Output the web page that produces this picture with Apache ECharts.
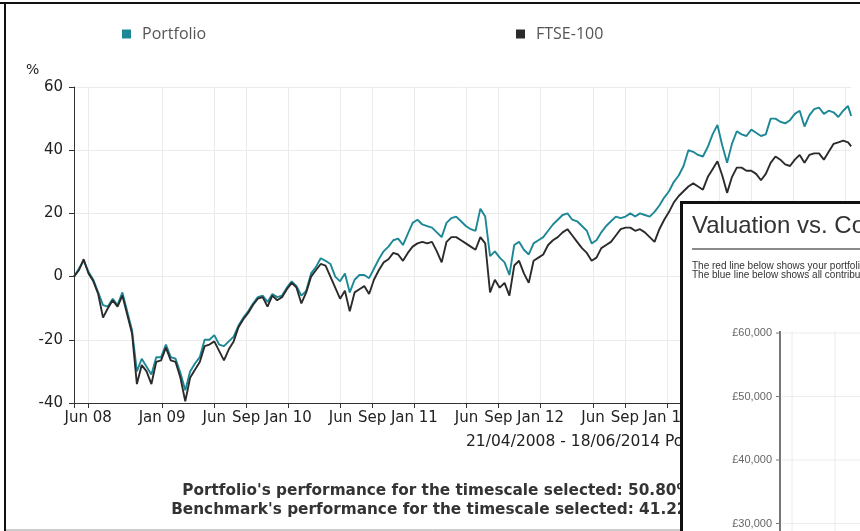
<!DOCTYPE html>
<html><head><meta charset="utf-8">
<script src="https://cdn.jsdelivr.net/npm/echarts@6/dist/echarts.min.js"></script>
<style>html,body{margin:0;padding:0;background:#fff}#c{width:860px;height:531px}</style>
</head><body><div id="c"></div>
<script>
// ---- data ----
const startDate = '2008-04-21';
const endDate = '2014-06-18';
const sampleStepDays = 14; // one reading every two weeks, last reading on endDate

const portfolio = [
  0, 2.5, 5, 1.5, -1, -5, -9, -9.5, -7, -9,
  -5, -11, -17, -30, -26, -28.5, -31, -25.5, -25.5, -21.5,
  -25.5, -26, -30.5, -36, -30, -27.5, -25.5, -20, -20, -18.5,
  -21.5, -22, -20.5, -19, -15.5, -13, -11, -8.5, -6.5, -6,
  -8, -5.5, -6.5, -6, -3.5, -1.5, -3, -6, -4.5, 1,
  3, 5.8, 5, 4, 0, -1.5, 1, -5, -1, 0.5,
  0.5, -0.5, 2.5, 5.5, 8, 9.5, 11.5, 12, 10, 13.5,
  17, 18, 16.5, 16, 15.5, 14, 12.5, 17, 18.5, 19,
  17.5, 16, 15, 14.5, 21.5, 19, 6.5, 8, 6, 4.5,
  0.5, 10, 11, 8.5, 7, 10.5, 11.5, 12.5, 14.5, 16.5,
  18, 19.5, 20, 18, 17.5, 16, 14.5, 10.5, 11.5, 14,
  16, 17.5, 19, 18.5, 19, 20, 19, 20, 19.5, 19,
  20.5, 22.5, 25, 27, 30, 32, 35, 40, 39.5, 38.5,
  38, 41, 45, 48, 41.5, 36, 42, 46, 45, 44.5,
  46.5, 45.5, 44.5, 45, 50, 50, 49, 48.5, 49.5, 51.5,
  52.5, 47.5, 51, 53, 53.5, 51.5, 52.5, 52, 50.5, 52.5,
  54, 50.8
];
const ftse = [
  0, 2, 5.5, 1, -1.5, -5.5, -13, -10, -7.5, -9.5,
  -6, -12, -18, -34, -28, -30, -34, -27, -26.5, -22.5,
  -26.5, -27, -32, -39.5, -32, -29.5, -27, -22, -21.5, -20.5,
  -23.5, -26.5, -23, -20.5, -16, -13.5, -11.5, -9, -7, -6.5,
  -9.5, -6, -7.5, -6.5, -4, -2, -3.5, -8.5, -5, 0,
  2, 4, 3.5, 0, -3.5, -7, -4.5, -11, -5, -4,
  -3, -5.5, -1, 2, 4.5, 5.5, 7.5, 7, 5, 7.5,
  9.5, 10.5, 11, 10.5, 11, 8, 4.5, 11, 12.5, 12.5,
  11.5, 10.5, 9.5, 8.5, 12.5, 10.5, -5, -1, -3.5, -2,
  -6, 3.5, 5, 1, -2, 5, 6, 7, 10, 11.5,
  12.5, 14, 15, 13, 11, 9, 7.5, 5, 6, 9,
  10, 11, 13, 15, 15.5, 15.5, 14.5, 15, 14, 12.5,
  11, 15, 18, 20.5, 23.5, 25.5, 27, 28.5, 29.5, 28.5,
  27.5, 31.5, 34, 36.5, 32, 26.5, 31.5, 34.5, 34.5, 33.5,
  33.5, 32.5, 30.5, 32.5, 36, 38, 37, 35.5, 35, 37,
  38.5, 36, 38.5, 39, 39, 37, 39.5, 42, 42.5, 43,
  42.5, 41.2
];

const xTickDates = ['2008-06-01','2009-01-01','2009-06-01','2009-09-01','2010-01-01','2010-06-01','2010-09-01',
  '2011-01-01','2011-06-01','2011-09-01','2012-01-01','2012-06-01','2012-09-01','2013-01-01','2013-06-01',
  '2013-09-01','2014-01-01','2014-06-01'];
const xTickLabels = ['Jun 08','Jan 09','Jun','Sep','Jan 10','Jun','Sep','Jan 11','Jun','Sep','Jan 12','Jun','Sep',
  'Jan 13','Jun','Sep','Jan 14','Jun'];
const yMin = -40, yMax = 60, yStep = 20;

const seriesNames = ['Portfolio', 'FTSE-100'];
const insetTickLabels = ['£60,000', '£50,000', '£40,000', '£30,000'];
const footerLines = [
  "Portfolio's performance for the timescale selected: 50.80%",
  "Benchmark's performance for the timescale selected: 41.22%"
];

// ---- build ----
function addDays(s, n) {
  const d = new Date(s + 'T00:00:00Z');
  d.setUTCDate(d.getUTCDate() + n);
  return d.toISOString().slice(0, 10);
}
const days = [];
for (let d = startDate; d <= endDate; d = addDays(d, 1)) days.push(d);
const sampleDates = portfolio.map((_, i) => i === portfolio.length - 1 ? endDate : addDays(startDate, i * sampleStepDays));
const tickSet = new Set(xTickDates);
const isTick = (i, v) => tickSet.has(v);
const isTickOrStart = (i, v) => i === 0 || tickSet.has(v);

const teal = '#1c8896', dark = '#2b2b2b';
const axisFont = 'DejaVu Sans';
const legendText = {fontSize: 16, color: '#555', fontFamily: 'Open Sans', padding: [0, 0, 0, 6]};

const chart = echarts.init(document.getElementById('c'), null, {renderer: 'canvas'});
chart.setOption({
  animation: false,
  backgroundColor: '#fff',
  title: {text: '%', left: 21, top: 58, textStyle: {fontSize: 14, fontWeight: 'normal', color: '#222', fontFamily: axisFont}},
  legend: [
    {data: [seriesNames[0]], left: 117, top: 21, icon: 'rect', itemWidth: 9, itemHeight: 9, itemGap: 0, textStyle: legendText},
    {data: [seriesNames[1]], left: 511, top: 21, icon: 'rect', itemWidth: 9, itemHeight: 9, itemGap: 0, textStyle: legendText}
  ],
  grid: {left: 74, right: 3, top: 87, bottom: 128, containLabel: false},
  xAxis: {
    type: 'category', data: days, boundaryGap: false,
    axisLine: {onZero: false, lineStyle: {color: '#333', width: 1}},
    axisTick: {interval: isTickOrStart, length: 5, lineStyle: {color: '#333'}},
    axisLabel: {interval: isTick, formatter: v => xTickLabels[xTickDates.indexOf(v)], color: '#222',
      fontSize: 15, fontFamily: axisFont, margin: 8},
    splitLine: {show: true, interval: isTick, lineStyle: {color: '#ebebeb'}}
  },
  yAxis: {
    type: 'value', min: yMin, max: yMax, interval: yStep,
    axisLine: {show: true, lineStyle: {color: '#333', width: 1}},
    axisTick: {show: true, length: 5, lineStyle: {color: '#333'}},
    axisLabel: {color: '#222', fontSize: 15, fontFamily: axisFont, margin: 11},
    splitLine: {lineStyle: {color: '#ebebeb'}}
  },
  series: [
    {name: seriesNames[0], type: 'line', showSymbol: false, color: teal, lineStyle: {width: 1.9, color: teal},
      data: sampleDates.map((d, i) => [d, portfolio[i]]), z: 2},
    {name: seriesNames[1], type: 'line', showSymbol: false, color: dark, lineStyle: {width: 1.9, color: dark},
      data: sampleDates.map((d, i) => [d, ftse[i]]), z: 3}
  ],
  graphic: [
    // frame of the screenshot
    {type: 'line', z: 200, shape: {x1: 0, y1: 3, x2: 860, y2: 3}, style: {stroke: '#111', lineWidth: 2}},
    {type: 'line', z: 200, shape: {x1: 5, y1: 3, x2: 5, y2: 531}, style: {stroke: '#111', lineWidth: 2}},
    {type: 'line', z: 50, shape: {x1: 5, y1: 530, x2: 860, y2: 530}, style: {stroke: '#999', lineWidth: 1}},
    // date range and footer
    {type: 'text', z: 50, x: 466, y: 442, style: {text: '21/04/2008 - 18/06/2014 Portfolio', font: '15.5px "DejaVu Sans"', fill: '#222', textVerticalAlign: 'middle'}},
    {type: 'text', z: 50, x: 437, y: 491, style: {text: footerLines[0], font: 'bold 15.3px "DejaVu Sans"', fill: '#333', textAlign: 'center', textVerticalAlign: 'middle'}},
    {type: 'text', z: 50, x: 437, y: 510, style: {text: footerLines[1], font: 'bold 15.3px "DejaVu Sans"', fill: '#333', textAlign: 'center', textVerticalAlign: 'middle'}},
    // overlapping second window
    {type: 'group', z: 100, children: [
      {type: 'rect', z: 100, shape: {x: 681.5, y: 202.5, width: 200, height: 340}, style: {fill: '#fff', stroke: '#111', lineWidth: 3}},
      {type: 'text', z: 101, x: 692, y: 226, style: {text: 'Valuation vs. Contributions', font: '24px "Liberation Sans"', fill: '#333', textVerticalAlign: 'middle'}},
      {type: 'line', z: 101, shape: {x1: 692, y1: 249, x2: 870, y2: 249}, style: {stroke: '#8a8a8a', lineWidth: 2}},
      {type: 'text', z: 101, x: 692, y: 266, style: {text: 'The red line below shows your portfolio valuation over time.', font: '10px "Liberation Sans"', fill: '#333', textVerticalAlign: 'middle'}},
      {type: 'text', z: 101, x: 692, y: 275, style: {text: 'The blue line below shows all contributions made.', font: '10px "Liberation Sans"', fill: '#333', textVerticalAlign: 'middle'}},
      {type: 'line', z: 101, shape: {x1: 780, y1: 331, x2: 780, y2: 531}, style: {stroke: '#777', lineWidth: 2}},
      {type: 'line', z: 101, shape: {x1: 792, y1: 331, x2: 792, y2: 531}, style: {stroke: '#eaeaea', lineWidth: 1}},
      {type: 'line', z: 101, shape: {x1: 835, y1: 331, x2: 835, y2: 531}, style: {stroke: '#eaeaea', lineWidth: 1}},
      ...insetTickLabels.map((t, k) => ({type: 'group', z: 101, children: [
        {type: 'text', z: 102, x: 772, y: 333 + k * 63.5, style: {text: t, font: '11px "Liberation Sans"', fill: '#666', textAlign: 'right', textVerticalAlign: 'middle'}},
        {type: 'line', z: 101, shape: {x1: 776, y1: 333 + k * 63.5, x2: 780, y2: 333 + k * 63.5}, style: {stroke: '#777', lineWidth: 1}},
        {type: 'line', z: 101, shape: {x1: 782, y1: 333 + k * 63.5, x2: 870, y2: 333 + k * 63.5}, style: {stroke: '#ececec', lineWidth: 1}}
      ]}))
    ]}
  ]
});
</script></body></html>
